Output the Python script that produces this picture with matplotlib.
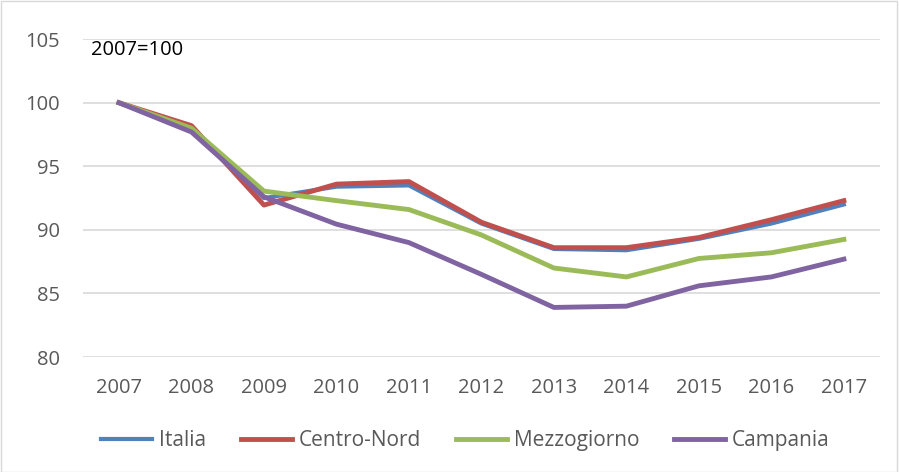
import matplotlib.pyplot as plt
from matplotlib.patches import Rectangle

years = [2007, 2008, 2009, 2010, 2011, 2012, 2013, 2014, 2015, 2016, 2017]
italia = [100, 98.0, 92.5, 93.4, 93.5, 90.5, 88.5, 88.4, 89.3, 90.5, 92.0]
centro_nord = [100, 98.2, 91.95, 93.6, 93.8, 90.6, 88.6, 88.6, 89.4, 90.8, 92.3]
mezzogiorno = [100, 98.0, 93.05, 92.3, 91.6, 89.6, 87.0, 86.3, 87.75, 88.2, 89.25]
campania = [100, 97.7, 92.6, 90.45, 89.0, 86.5, 83.9, 84.0, 85.6, 86.3, 87.7]

plt.rcParams['font.family'] = ['Open Sans', 'DejaVu Sans']

fig = plt.figure(figsize=(8.99, 4.72), dpi=100)
ax = fig.add_axes([0.092, 0.2436, 0.887, 0.6734])

ax.plot(years, italia, color='#4F81BD', lw=3.0, label='Italia')
ax.plot(years, centro_nord, color='#C0504D', lw=3.5, label='Centro-Nord')
ax.plot(years, mezzogiorno, color='#9BBB59', lw=3.5, label='Mezzogiorno')
ax.plot(years, campania, color='#8064A2', lw=3.5, label='Campania')

ax.set_xlim(2006.5, 2017.5)
ax.set_ylim(80, 105)
ax.set_yticks([80, 85, 90, 95, 100, 105])
ax.set_xticks(years)
ax.grid(axis='y', color='#D9D9D9', lw=1.2)
ax.set_axisbelow(True)
for s in ax.spines.values():
    s.set_visible(False)
ax.tick_params(length=0, labelsize=14.5, labelcolor='#595959')
ax.tick_params(axis='x', pad=15)
ax.tick_params(axis='y', pad=16.5)

ax.text(2006.61, 104.15, '2007=100', fontsize=14.5, color='black', va='center')

fig.legend(loc='center left', ncol=4, frameon=False, fontsize=15,
           bbox_to_anchor=(0.092, 0.066), handlelength=2.45, handletextpad=0.3,
           columnspacing=1.7, labelcolor='#595959')

fig.add_artist(Rectangle((0.001, 0.001), 0.997, 0.997, transform=fig.transFigure,
                         fill=False, edgecolor='#D9D9D9', lw=1))

fig.savefig('out.png', dpi=100)
